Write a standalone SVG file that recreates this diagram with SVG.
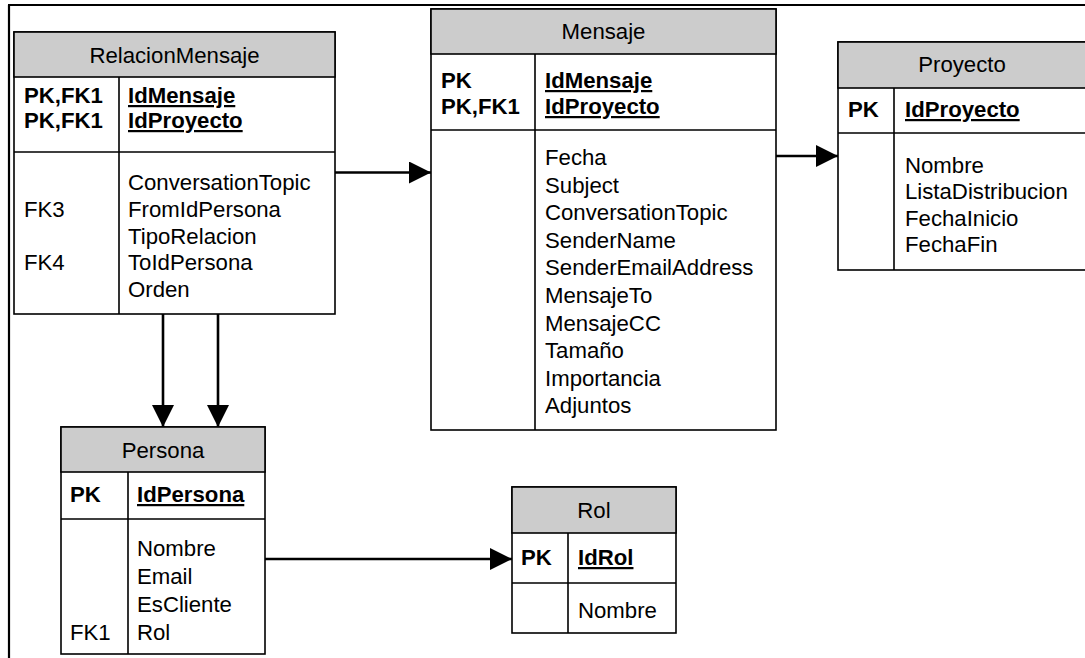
<svg xmlns="http://www.w3.org/2000/svg" width="1085" height="658" viewBox="0 0 1085 658">
  <style>
    .box { fill: #ffffff; stroke: #000000; stroke-width: 1.6; }
    .hdr { fill: #cccccc; stroke: #000000; stroke-width: 1.6; }
    .sep { stroke: #000000; stroke-width: 1.6; fill: none; }
    .t { font-family: "Liberation Sans", Arial, sans-serif; font-size: 22.2px; fill: #000000; }
    .ttl { text-anchor: middle; }
    .k { font-weight: bold; }
    .u { font-weight: bold; text-decoration: underline; }
    .frame { stroke: #000000; stroke-width: 2.2; fill: none; }
    .conn { stroke: #000000; stroke-width: 2.6; fill: none; }
  </style>
  <defs>
    <marker id="arrow" viewBox="0 0 22 22" refX="22" refY="11" markerWidth="22" markerHeight="22" markerUnits="userSpaceOnUse" orient="auto">
      <path d="M0,0 L22,11 L0,22 z" fill="#000000"/>
    </marker>
  </defs>

  <rect width="1085" height="658" fill="#ffffff"/>
  <!-- page frame -->
  <path class="frame" d="M8,5 H1085 M9,5 V658"/>

  <!-- RelacionMensaje -->
  <g id="relacionmensaje">
    <rect class="box" x="14" y="32" width="321" height="282"/>
    <rect class="hdr" x="14" y="32" width="321" height="45"/>
    <path class="sep" d="M14,152 H335 M119,77 V314"/>
    <text class="t ttl" x="174.5" y="63">RelacionMensaje</text>
    <text class="t k" x="24" y="103">PK,FK1</text>
    <text class="t k" x="24" y="128">PK,FK1</text>
    <text class="t u" x="128" y="103">IdMensaje</text>
    <text class="t u" x="128" y="128">IdProyecto</text>
    <text class="t" x="128" y="190">ConversationTopic</text>
    <text class="t" x="24" y="217">FK3</text>
    <text class="t" x="128" y="217">FromIdPersona</text>
    <text class="t" x="128" y="243.5">TipoRelacion</text>
    <text class="t" x="24" y="270">FK4</text>
    <text class="t" x="128" y="270">ToIdPersona</text>
    <text class="t" x="128" y="297">Orden</text>
  </g>

  <!-- Mensaje -->
  <g id="mensaje">
    <rect class="box" x="431" y="9" width="345" height="421"/>
    <rect class="hdr" x="431" y="9" width="345" height="45"/>
    <path class="sep" d="M431,130 H776 M535,54 V430"/>
    <text class="t ttl" x="603.5" y="39">Mensaje</text>
    <text class="t k" x="441" y="88">PK</text>
    <text class="t k" x="441" y="114">PK,FK1</text>
    <text class="t u" x="545" y="88">IdMensaje</text>
    <text class="t u" x="545" y="114">IdProyecto</text>
    <text class="t" x="545" y="165">Fecha</text>
    <text class="t" x="545" y="192.5">Subject</text>
    <text class="t" x="545" y="220">ConversationTopic</text>
    <text class="t" x="545" y="247.5">SenderName</text>
    <text class="t" x="545" y="275">SenderEmailAddress</text>
    <text class="t" x="545" y="303">MensajeTo</text>
    <text class="t" x="545" y="330.5">MensajeCC</text>
    <text class="t" x="545" y="358">Tamaño</text>
    <text class="t" x="545" y="385.5">Importancia</text>
    <text class="t" x="545" y="413">Adjuntos</text>
  </g>

  <!-- Proyecto -->
  <g id="proyecto">
    <rect class="box" x="838" y="42" width="250" height="228"/>
    <rect class="hdr" x="838" y="42" width="250" height="46"/>
    <path class="sep" d="M838,133 H1088 M894,88 V270"/>
    <text class="t ttl" x="962" y="72">Proyecto</text>
    <text class="t k" x="848" y="117">PK</text>
    <text class="t u" x="905" y="117">IdProyecto</text>
    <text class="t" x="905" y="172.5">Nombre</text>
    <text class="t" x="905" y="199">ListaDistribucion</text>
    <text class="t" x="905" y="225.5">FechaInicio</text>
    <text class="t" x="905" y="252">FechaFin</text>
  </g>

  <!-- Persona -->
  <g id="persona">
    <rect class="box" x="61" y="427" width="204" height="227"/>
    <rect class="hdr" x="61" y="427" width="204" height="45"/>
    <path class="sep" d="M61,519 H265 M128,472 V654"/>
    <text class="t ttl" x="163" y="458">Persona</text>
    <text class="t k" x="70" y="502">PK</text>
    <text class="t u" x="137" y="502">IdPersona</text>
    <text class="t" x="137" y="556">Nombre</text>
    <text class="t" x="137" y="584">Email</text>
    <text class="t" x="137" y="612">EsCliente</text>
    <text class="t" x="70" y="640">FK1</text>
    <text class="t" x="137" y="640">Rol</text>
  </g>

  <!-- Rol -->
  <g id="rol">
    <rect class="box" x="512" y="487" width="164" height="146"/>
    <rect class="hdr" x="512" y="487" width="164" height="46"/>
    <path class="sep" d="M512,583 H676 M568,533 V633"/>
    <text class="t ttl" x="594" y="518">Rol</text>
    <text class="t k" x="521" y="565">PK</text>
    <text class="t u" x="578" y="565">IdRol</text>
    <text class="t" x="578" y="618">Nombre</text>
  </g>

  <!-- relationships -->
  <g id="connectors">
    <path class="conn" d="M335,172.5 H431" marker-end="url(#arrow)"/>
    <path class="conn" d="M776,156 H838" marker-end="url(#arrow)"/>
    <path class="conn" d="M163,314 V427" marker-end="url(#arrow)"/>
    <path class="conn" d="M218,314 V427" marker-end="url(#arrow)"/>
    <path class="conn" d="M265,559 H512" marker-end="url(#arrow)"/>
  </g>
</svg>
